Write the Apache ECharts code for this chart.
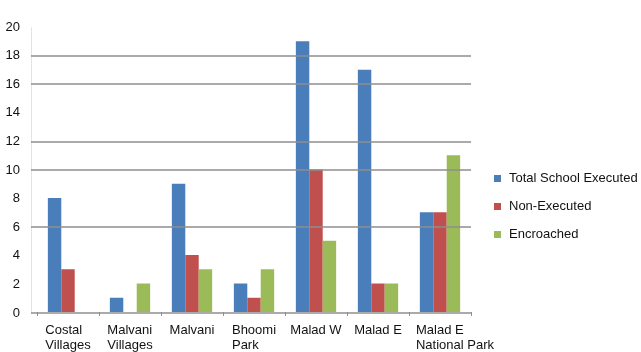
<!DOCTYPE html>
<html>
<head>
<meta charset="utf-8">
<script src="https://cdn.jsdelivr.net/npm/echarts@6/dist/echarts.min.js"></script>
<style>
  html, body { margin: 0; padding: 0; background: #fff; }
  #chart { width: 641px; height: 352px; }
</style>
</head>
<body>
<div id="chart"></div>
<script>
// Schools per area
const categories = ['Costal Villages', 'Malvani Villages', 'Malvani', 'Bhoomi Park', 'Malad W', 'Malad E', 'Malad E National Park'];
const categoryLabels = ['Costal\nVillages', 'Malvani\nVillages', 'Malvani', 'Bhoomi\nPark', 'Malad W', 'Malad E', 'Malad E\nNational Park'];
const totalExecuted = [8, 1, 9, 2, 19, 17, 7];
const nonExecuted = [3, 0, 4, 1, 10, 2, 7];
const encroached = [0, 2, 3, 3, 5, 2, 11];
const seriesNames = ['Total School Executed', 'Non-Executed', 'Encroached'];
const yTicks = { min: 0, max: 20, step: 2 };
// horizontal rules that are drawn across the plot
const ruleValues = [0, 6, 10, 12, 16, 18];

const colors = ['#4a7ebb', '#c0504d', '#9bbb59'];
const ruleColor = '#8e8e8e';
const font = '"Liberation Sans", Arial, sans-serif';

const chart = echarts.init(document.getElementById('chart'), null, { renderer: 'canvas' });

// axis label: lines left-aligned inside a centred block
function labelFormatter(value, idx) {
  const lines = categoryLabels[idx].split('\n');
  const style = idx === categories.length - 1 ? 'wide' : 'ln';
  return lines.map(l => '{' + style + '|' + l + '}').join('\n');
}

function barSeries(i, data) {
  return {
    name: seriesNames[i],
    type: 'bar',
    xAxisIndex: 1,
    yAxisIndex: 1,
    data: data,
    itemStyle: { color: colors[i] },
    barGap: '0%',
    barCategoryGap: '35%'
  };
}

chart.setOption({
  animation: false,
  textStyle: { fontFamily: font },
  grid: [
    { left: 31, right: 170, top: 27, bottom: 39 },   // rules + value labels
    { left: 37, right: 170, top: 27, bottom: 39 }    // bars
  ],
  legend: {
    orient: 'vertical',
    left: 489,
    top: 167,
    itemWidth: 7,
    itemHeight: 7,
    itemGap: 15,
    icon: 'rect',
    textStyle: { fontSize: 13, color: '#111', fontFamily: font, padding: [0, 0, 0, 3] },
    data: seriesNames
  },
  xAxis: [
    { gridIndex: 0, type: 'value', min: 0, max: 1, show: false },
    {
      gridIndex: 1,
      type: 'category',
      data: categories,
      axisLine: { show: false },
      axisTick: { show: true, length: 4, lineStyle: { color: '#8e8e8e' } },
      axisLabel: {
        interval: 0,
        margin: 11,
        color: '#111',
        formatter: labelFormatter,
        rich: {
          ln: { fontSize: 13, lineHeight: 15, align: 'left', color: '#111', fontFamily: font },
          wide: { fontSize: 13, lineHeight: 15, align: 'left', color: '#111', fontFamily: font, padding: [0, 0, 0, 30] }
        }
      }
    }
  ],
  yAxis: [
    {
      gridIndex: 0,
      type: 'value',
      min: yTicks.min,
      max: yTicks.max,
      interval: yTicks.step,
      axisLine: { show: true, lineStyle: { color: '#dddddd', type: 'dotted' } },
      axisTick: { show: false },
      axisLabel: { fontSize: 13, color: '#111', margin: 11, fontFamily: font },
      splitLine: { show: false }
    },
    {
      gridIndex: 1,
      type: 'value',
      min: yTicks.min,
      max: yTicks.max,
      interval: yTicks.step,
      show: false,
      splitLine: { show: false }
    }
  ],
  series: [
    {
      name: 'rules',
      type: 'line',
      xAxisIndex: 0,
      yAxisIndex: 0,
      data: [],
      silent: true,
      itemStyle: { color: ruleColor },
      markLine: {
        silent: true,
        symbol: 'none',
        label: { show: false },
        lineStyle: { color: ruleColor, width: 1.5, type: 'solid' },
        data: ruleValues.map(v => ({ yAxis: v }))
      }
    },
    barSeries(0, totalExecuted),
    barSeries(1, nonExecuted),
    barSeries(2, encroached)
  ]
});
</script>
</body>
</html>
